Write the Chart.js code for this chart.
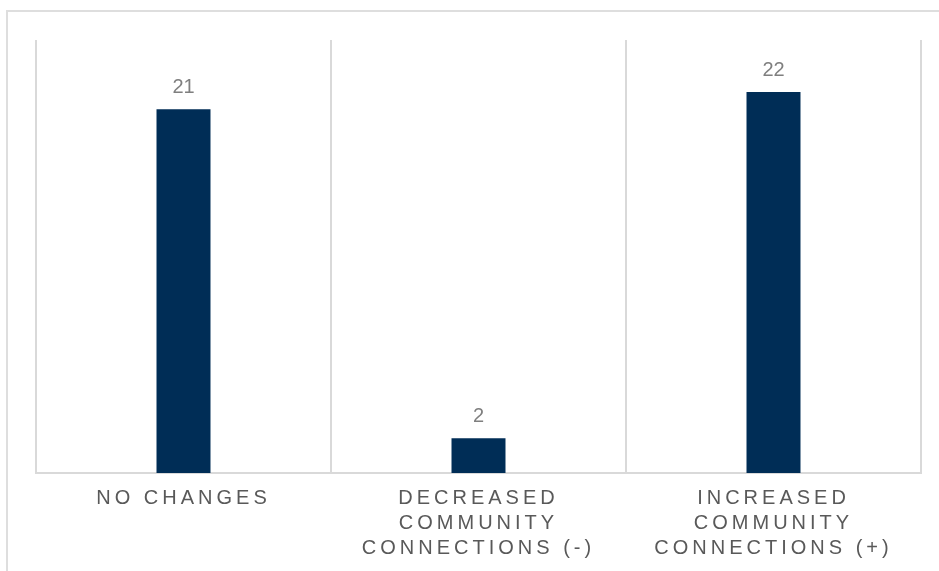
<!DOCTYPE html>
<html>
<head>
<meta charset="utf-8">
<script src="https://cdn.jsdelivr.net/npm/chart.js@4/dist/chart.umd.min.js"></script>
<style>
    html, body { margin: 0; padding: 0; background: #fff; }
    .frame {
        position: absolute;
        left: 6px;
        top: 10px;
        width: 960px;
        height: 600px;
        border-left: 2px solid #dedede;
        border-top: 2px solid #dedede;
    }
    .chart-box {
        position: absolute;
        left: 0;
        top: 0;
        width: 939px;
        height: 571px;
    }
</style>
</head>
<body>
<div class="frame"></div>
<div class="chart-box">
    <canvas id="communityChart"></canvas>
</div>
<script>
// Responses by change in community connections
const categories = [
    ['NO CHANGES'],
    ['DECREASED', 'COMMUNITY', 'CONNECTIONS (-)'],
    ['INCREASED', 'COMMUNITY', 'CONNECTIONS (+)']
];
const responses = [21, 2, 22];
const yMax = 25;

// Spaced-out caps for the category labels, reset before the bars draw
const letterSpacingPlugin = {
    id: 'letterSpacing',
    beforeDraw(chart) {
        chart.ctx.letterSpacing = '4px';
    },
    beforeDatasetsDraw(chart) {
        chart.ctx.letterSpacing = '0px';
    }
};

// Value labels above each bar
const valueLabelPlugin = {
    id: 'valueLabels',
    afterDatasetsDraw(chart) {
        const ctx = chart.ctx;
        const meta = chart.getDatasetMeta(0);
        ctx.save();
        ctx.letterSpacing = '0px';
        ctx.font = '20px "Liberation Sans", Arial, sans-serif';
        ctx.fillStyle = '#7f7f7f';
        ctx.textAlign = 'center';
        ctx.textBaseline = 'alphabetic';
        meta.data.forEach((bar, i) => {
            ctx.fillText(String(responses[i]), bar.x, bar.y - 16);
        });
        ctx.restore();
    }
};

const ctx = document.getElementById('communityChart');
new Chart(ctx, {
    type: 'bar',
    data: {
        labels: categories,
        datasets: [{
            data: responses,
            backgroundColor: '#002d56',
            borderWidth: 0,
            categoryPercentage: 1,
            barPercentage: 0.183
        }]
    },
    options: {
        responsive: true,
        maintainAspectRatio: false,
        animation: false,
        layout: {
            padding: { left: 36, right: 18, top: 40, bottom: 0 }
        },
        plugins: {
            legend: { display: false },
            tooltip: { enabled: false }
        },
        scales: {
            x: {
                // fixed band for the three-line labels under the axis
                afterFit(scale) {
                    scale.height = 98;
                },
                grid: {
                    color: '#d9d9d9',
                    lineWidth: 2,
                    drawTicks: false
                },
                border: {
                    color: '#d9d9d9',
                    width: 2
                },
                ticks: {
                    color: '#595959',
                    padding: 13,
                    autoSkip: false,
                    maxRotation: 0,
                    font: {
                        family: '"Liberation Sans", Arial, sans-serif',
                        size: 20,
                        lineHeight: 25 / 20
                    }
                }
            },
            y: {
                display: false,
                min: 0,
                max: yMax
            }
        }
    },
    plugins: [letterSpacingPlugin, valueLabelPlugin]
});
</script>
</body>
</html>
